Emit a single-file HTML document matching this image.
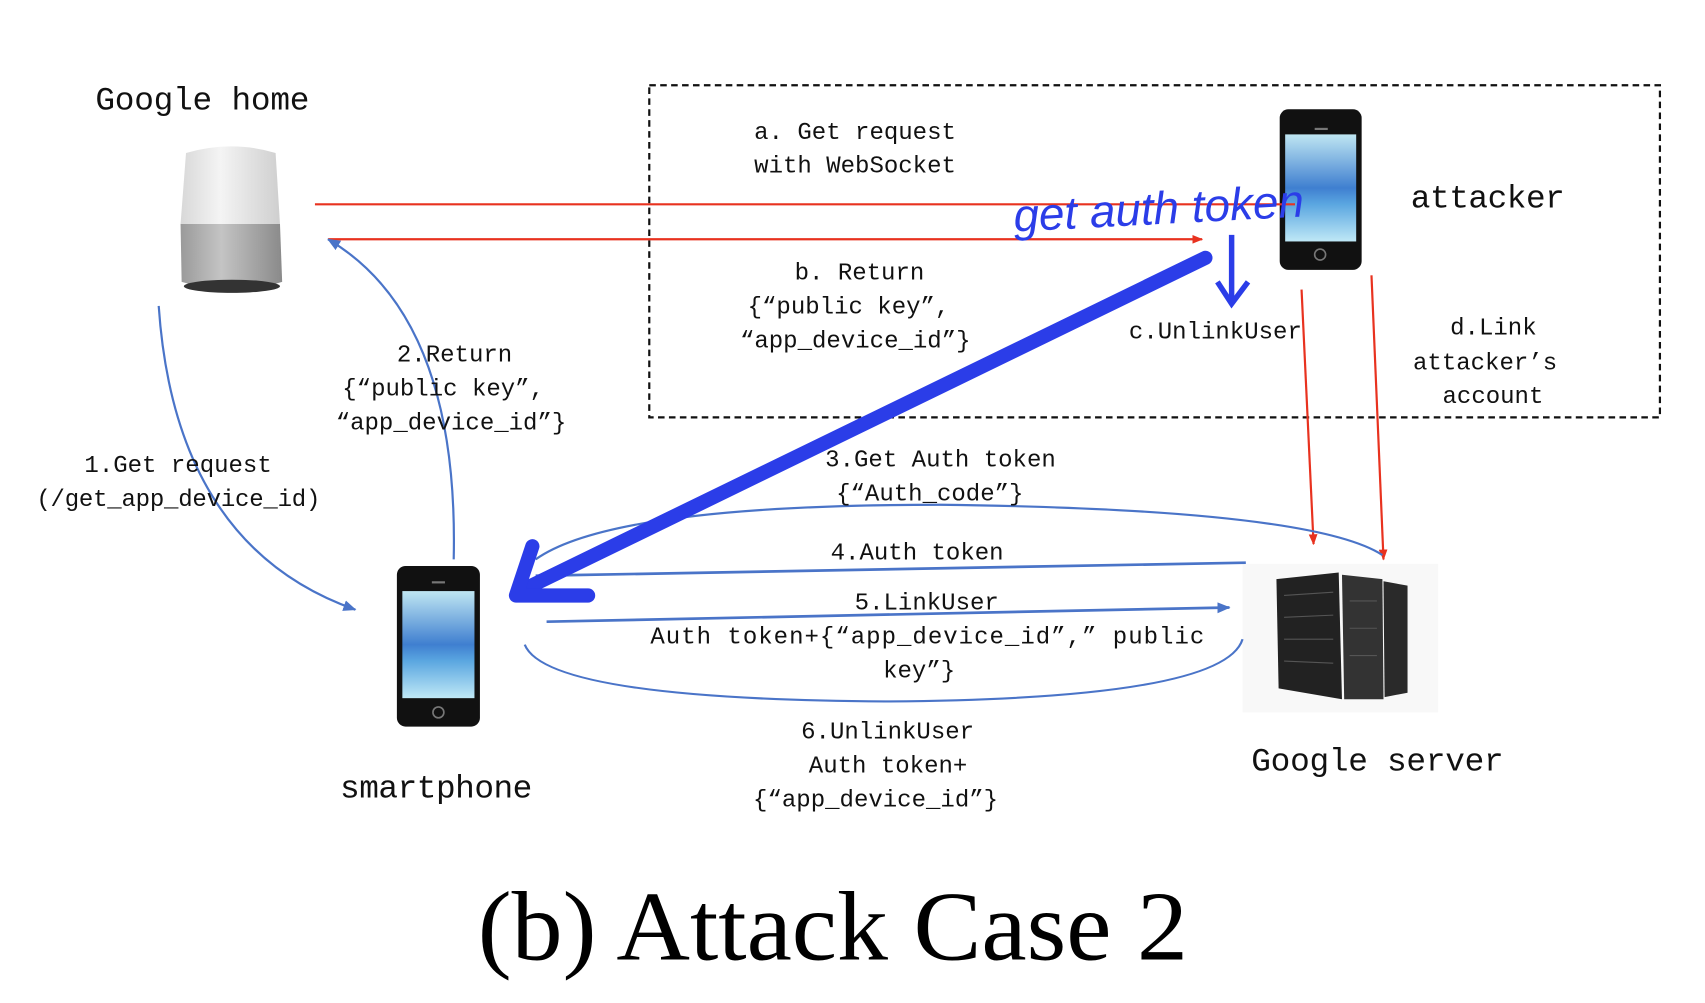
<!DOCTYPE html>
<html><head><meta charset="utf-8"><style>
html,body{margin:0;padding:0;background:#fff;}
svg{display:block;}
.t{font-family:"Liberation Mono","Noto Sans CJK SC",monospace;font-size:22px;fill:#111;}
.big{font-family:"Liberation Mono","Noto Sans CJK SC",monospace;font-size:30px;fill:#111;}
</style></head><body>
<svg width="1705" height="1003" viewBox="0 0 1560 918" xmlns="http://www.w3.org/2000/svg">
<defs>
<marker id="ar" markerWidth="10" markerHeight="10" refX="9" refY="5" orient="auto" markerUnits="userSpaceOnUse"><path d="M0,1 L10,5 L0,9 z" fill="#e8321f"/></marker>
<marker id="ab" markerWidth="12" markerHeight="12" refX="11" refY="6" orient="auto" markerUnits="userSpaceOnUse"><path d="M0,1 L12,6 L0,11 z" fill="#4a74c8"/></marker>
<linearGradient id="scr" x1="0" y1="0" x2="0" y2="1"><stop offset="0" stop-color="#bfe6f2"/><stop offset="0.5" stop-color="#3f7fd0"/><stop offset="0.65" stop-color="#5aa6e0"/><stop offset="1" stop-color="#bfe8f6"/></linearGradient>
<linearGradient id="gh" x1="0" y1="0" x2="1" y2="0"><stop offset="0" stop-color="#d8d8d8"/><stop offset="0.4" stop-color="#f4f4f4"/><stop offset="1" stop-color="#cfcfcf"/></linearGradient>
<linearGradient id="gh2" x1="0" y1="0" x2="1" y2="0"><stop offset="0" stop-color="#9a9a9a"/><stop offset="0.4" stop-color="#c4c4c4"/><stop offset="1" stop-color="#8a8a8a"/></linearGradient>
</defs>

<text class="big" x="87" y="100" textLength="196">Google home</text>
<path d="M170,140 Q212,128 252,140 L256,205 L165,205 Z" fill="url(#gh)"/>
<path d="M165,205 L256,205 L258,258 Q212,272 166,258 Z" fill="url(#gh2)"/>
<ellipse cx="212" cy="262" rx="44" ry="6" fill="#333"/>

<rect x="594" y="78" width="925" height="304" fill="none" stroke="#111" stroke-width="2" stroke-dasharray="6,4"/>

<rect x="1171" y="100" width="75" height="147" rx="8" fill="#111"/>
<rect x="1176" y="123" width="65" height="98" fill="url(#scr)"/>
<circle cx="1208" cy="233" r="5" fill="none" stroke="#777" stroke-width="1.5"/>
<text class="big" x="1291" y="190" textLength="141">attacker</text>

<line x1="288" y1="187" x2="1185" y2="187" stroke="#e8321f" stroke-width="2"/>
<line x1="300" y1="219" x2="1100" y2="219" stroke="#e8321f" stroke-width="2" marker-end="url(#ar)"/>
<line x1="1191" y1="265" x2="1202" y2="498" stroke="#e8321f" stroke-width="2" marker-end="url(#ar)"/>
<line x1="1255" y1="252" x2="1266" y2="512" stroke="#e8321f" stroke-width="2" marker-end="url(#ar)"/>

<text class="t" x="690" y="127">a. Get request</text>
<text class="t" x="690" y="158">with WebSocket</text>
<text class="t" x="727" y="256">b. Return</text>
<text class="t" x="684" y="287">{“public key”,</text>
<text class="t" x="677" y="318">“app_device_id”}</text>
<text class="t" x="1033" y="310">c.UnlinkUser</text>
<text class="t" x="1327" y="306">d.Link</text>
<text class="t" x="1293" y="338">attacker’s</text>
<text class="t" x="1320" y="369">account</text>

<text x="928" y="212" font-family="Liberation Sans,sans-serif" font-style="italic" font-size="42" fill="#2b3de8" transform="rotate(-3 928 212)">get  auth token</text>
<line x1="1127" y1="215" x2="1127" y2="275" stroke="#2b3de8" stroke-width="5"/>
<path d="M1114,258 L1127,278 L1142,258" fill="none" stroke="#2b3de8" stroke-width="5"/>

<rect x="363" y="518" width="76" height="147" rx="8" fill="#111"/>
<rect x="368" y="541" width="66" height="98" fill="url(#scr)"/>
<circle cx="401" cy="652" r="5" fill="none" stroke="#777" stroke-width="1.5"/>
<rect x="395" y="532" width="12" height="2" fill="#777"/>
<rect x="1203" y="117" width="12" height="2" fill="#777"/>
<text class="big" x="311" y="730" textLength="176">smartphone</text>

<rect x="1137" y="516" width="179" height="136" fill="#f8f8f8"/>
<path d="M1168,530 L1225,524 L1228,640 L1170,630 Z" fill="#222"/>
<path d="M1228,526 L1265,530 L1266,640 L1230,640 Z" fill="#333"/>
<path d="M1266,532 L1288,536 L1288,634 L1267,638 Z" fill="#2a2a2a"/>
<g stroke="#555" stroke-width="1">
<line x1="1175" y1="545" x2="1220" y2="542"/><line x1="1175" y1="565" x2="1220" y2="563"/><line x1="1175" y1="585" x2="1220" y2="585"/><line x1="1175" y1="605" x2="1220" y2="607"/>
<line x1="1235" y1="550" x2="1260" y2="550"/><line x1="1235" y1="575" x2="1260" y2="575"/><line x1="1235" y1="600" x2="1260" y2="600"/>
</g>
<text class="big" x="1145" y="705" textLength="231">Google server</text>

<path d="M145,280 Q160,500 325,558" fill="none" stroke="#4a74c8" stroke-width="2" marker-end="url(#ab)"/>
<path d="M415,512 Q420,290 300,219" fill="none" stroke="#4a74c8" stroke-width="2" marker-end="url(#ab)"/>
<path d="M490,512 Q560,462 860,462 Q1200,466 1265,508" fill="none" stroke="#4a74c8" stroke-width="2"/>
<line x1="1140" y1="515" x2="490" y2="527" stroke="#4a74c8" stroke-width="2.5"/>
<line x1="500" y1="569" x2="1125" y2="556" stroke="#4a74c8" stroke-width="2.5" marker-end="url(#ab)"/>
<path d="M480,590 Q500,640 810,642 Q1120,640 1137,585" fill="none" stroke="#4a74c8" stroke-width="2"/>

<text class="t" x="77" y="432">1.Get request</text>
<text class="t" x="33" y="463" textLength="260">(/get_app_device_id)</text>
<text class="t" x="363" y="331">2.Return</text>
<text class="t" x="313" y="362">{“public key”,</text>
<text class="t" x="307" y="393">“app_device_id”}</text>
<text class="t" x="755" y="427">3.Get Auth token</text>
<text class="t" x="765" y="458">{“Auth_code”}</text>
<text class="t" x="760" y="512">4.Auth token</text>
<text class="t" x="782" y="558">5.LinkUser</text>
<text class="t" x="595" y="589" textLength="507">Auth token+{“app_device_id”,” public</text>
<text class="t" x="808" y="620">key”}</text>
<text class="t" x="733" y="676">6.UnlinkUser</text>
<text class="t" x="740" y="707">Auth token+</text>
<text class="t" x="689" y="738">{“app_device_id”}</text>

<line x1="1103" y1="236" x2="478" y2="540" stroke="#2b3de8" stroke-width="13" stroke-linecap="round"/>
<path d="M487,500 L472,545 L538,545" fill="none" stroke="#2b3de8" stroke-width="13" stroke-linecap="round" stroke-linejoin="round"/>

<text x="437" y="878" font-family="Liberation Serif,serif" font-size="90" fill="#000" textLength="650" lengthAdjust="spacingAndGlyphs">(b) Attack Case 2</text>
</svg>
</body></html>
